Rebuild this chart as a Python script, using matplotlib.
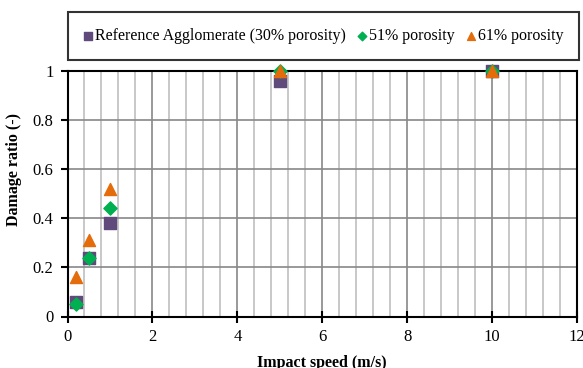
import matplotlib
matplotlib.use("Agg")
from matplotlib import pyplot as plt

plt.rcParams["font.family"] = ["Liberation Serif", "DejaVu Serif"]

speed = [0.2, 0.5, 1, 5, 10]
ref_30 = [0.06, 0.24, 0.38, 0.96, 1.0]
por_51 = [0.05, 0.24, 0.44, 1.0, 1.0]
por_61 = [0.16, 0.31, 0.52, 1.0, 1.0]

x_ticks = [0, 2, 4, 6, 8, 10, 12]
y_ticks = [0, 0.2, 0.4, 0.6, 0.8, 1]
y_labels = ["0", "0.2", "0.4", "0.6", "0.8", "1"]

fig = plt.figure(figsize=(5.83, 3.68), dpi=100)
ax = fig.add_axes([67.5 / 583, 1 - 316.5 / 368, 509.5 / 583, 245.5 / 368])

ax.scatter(speed, ref_30, marker="s", s=70, c="#604A7B", label="Reference Agglomerate (30% porosity)", zorder=3, clip_on=False)
ax.scatter(speed, por_51, marker="D", s=45, c="#00B050", label="51% porosity", zorder=4, clip_on=False)
ax.scatter(speed, por_61, marker="^", s=75, c="#E46C0A", label="61% porosity", zorder=5, clip_on=False)

ax.set_xlim(0, 12)
ax.set_ylim(0, 1)
ax.set_xticks(x_ticks)
ax.set_xticklabels([str(v) for v in x_ticks])
ax.set_xticks([v * 0.4 for v in range(31) if v % 5], minor=True)
ax.set_yticks(y_ticks)
ax.set_yticklabels(y_labels)
ax.grid(which="major", color="#888888", linewidth=1.2)
ax.grid(which="minor", axis="x", color="#BFBFBF", linewidth=1.2)
ax.set_axisbelow(True)
for s in ax.spines.values():
    s.set_linewidth(1.5)
ax.tick_params(which="major", labelsize=12, pad=5)
ax.tick_params(axis="x", which="major", direction="inout", length=8, width=1.5)
ax.tick_params(axis="y", which="major", direction="out", length=5, width=1.5)
ax.tick_params(which="minor", length=0)

ax.set_xlabel("Impact speed (m/s)", fontsize=11.5, fontweight="bold", labelpad=7)
ax.set_ylabel("Damage ratio (-)", fontsize=11.5, fontweight="bold")
# the y title sits above the axes centre in the reference
ax.yaxis.set_label_coords(-0.089, 0.60)

leg = fig.legend(loc="upper left", bbox_to_anchor=(68 / 583, 1 - 12 / 368), ncol=3,
                 fontsize=11.5, frameon=True, fancybox=False, edgecolor="black",
                 handletextpad=0.2, columnspacing=0.75, borderpad=1.0,
                 borderaxespad=0, markerscale=0.65, handlelength=0.5)
leg.get_frame().set_linewidth(1.5)

fig.savefig("out.png", dpi=100)
